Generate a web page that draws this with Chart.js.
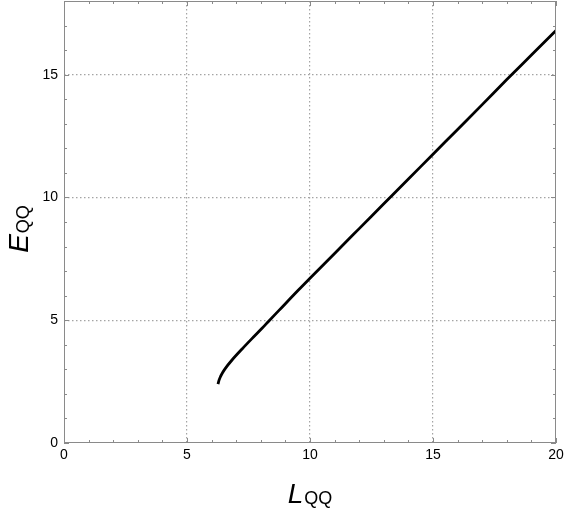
<!DOCTYPE html>
<html>
<head>
<meta charset="utf-8">
<script src="https://cdn.jsdelivr.net/npm/chart.js@4"></script>
<style>
  html, body { margin: 0; padding: 0; background: #fff; }
  #wrap { width: 565px; height: 511px; }
</style>
</head>
<body>
<div id="wrap"><canvas id="chart" width="565" height="511"></canvas></div>
<script>
// data
const lValues = [6.26, 6.30, 6.36, 6.45, 6.56, 6.83, 7.24, 7.64, 8.05, 8.32, 8.73, 9.52, 10, 11, 12, 13, 14, 15, 16, 17, 18, 19, 20];
const eValues = [2.40, 2.55, 2.70, 2.87, 3.04, 3.38, 3.83, 4.25, 4.67, 4.96, 5.39, 6.22, 6.71, 7.72, 8.73, 9.74, 10.75, 11.76, 12.77, 13.78, 14.80, 15.80, 16.80];
const xRange = [0, 20];
const yRange = [0, 18];
const majorStep = 5;

const frameColor = '#8a8a8a';
const gridColor = '#a4a4a4';

const points = lValues.map((l, i) => ({ x: l, y: eValues[i] }));

// grid only on major values, not on the frame
const gridAt = (ctx, range) => {
  const v = ctx.tick ? ctx.tick.value : null;
  if (v === null || v % majorStep !== 0 || v === range[0] || v === range[1]) return 'rgba(0,0,0,0)';
  return gridColor;
};

// box frame with inward ticks, drawn through the scales
const framePlugin = {
  id: 'frame',
  afterDraw(chart) {
    const { ctx, chartArea: a, scales: { x, y } } = chart;
    ctx.save();
    ctx.strokeStyle = frameColor;
    ctx.lineWidth = 1;
    ctx.strokeRect(a.left + 0.5, a.top + 0.5, a.right - a.left - 1, a.bottom - a.top - 1);
    ctx.beginPath();
    for (let v = xRange[0]; v <= xRange[1]; v++) {
      const px = Math.round(x.getPixelForValue(v)) + 0.5;
      const len = v % majorStep === 0 ? 5 : 3;
      ctx.moveTo(px, a.bottom); ctx.lineTo(px, a.bottom - len);
      ctx.moveTo(px, a.top); ctx.lineTo(px, a.top + len);
    }
    for (let v = yRange[0]; v <= yRange[1]; v++) {
      const py = Math.round(y.getPixelForValue(v)) + 0.5;
      const len = v % majorStep === 0 ? 5 : 3;
      ctx.moveTo(a.left, py); ctx.lineTo(a.left + len, py);
      ctx.moveTo(a.right, py); ctx.lineTo(a.right - len, py);
    }
    ctx.stroke();

    // axis titles with subscripts
    const drawLabel = (main, sub) => {
      ctx.font = 'italic 28px "Liberation Sans", Arial, sans-serif';
      const w1 = ctx.measureText(main).width;
      ctx.font = '18px "Liberation Sans", Arial, sans-serif';
      const w2 = ctx.measureText(sub).width;
      const start = -(w1 + w2 + 1) / 2;
      ctx.font = 'italic 28px "Liberation Sans", Arial, sans-serif';
      ctx.fillText(main, start, 0);
      ctx.font = '18px "Liberation Sans", Arial, sans-serif';
      ctx.fillText(sub, start + w1 + 1, 1);
    };
    ctx.fillStyle = '#000';
    ctx.textBaseline = 'alphabetic';
    ctx.textAlign = 'left';
    ctx.save();
    ctx.translate((a.left + a.right) / 2, 503);
    drawLabel('L', 'QQ');
    ctx.restore();
    ctx.save();
    ctx.translate(28, (a.top + a.bottom) / 2 + 7);
    ctx.rotate(-Math.PI / 2);
    drawLabel('E', 'QQ');
    ctx.restore();
    ctx.restore();
  }
};

new Chart(document.getElementById('chart').getContext('2d'), {
  type: 'line',
  data: {
    datasets: [{
      data: points,
      borderColor: '#000',
      borderWidth: 2.8,
      pointRadius: 0,
      fill: false,
      tension: 0.4,
      cubicInterpolationMode: 'monotone'
    }]
  },
  options: {
    responsive: false,
    animation: false,
    layout: { autoPadding: false, padding: { top: 1, right: 9, left: 0, bottom: 0 } },
    plugins: { legend: { display: false }, tooltip: { enabled: false } },
    scales: {
      x: {
        type: 'linear',
        min: xRange[0], max: xRange[1],
        afterFit: s => { s.height = 68; s.paddingLeft = 0; s.paddingRight = 0; },
        border: { display: false, dash: [1.5, 2.5] },
        grid: { drawTicks: false, color: c => gridAt(c, xRange), lineWidth: 1.2 },
        ticks: {
          stepSize: 1, autoSkip: false, maxRotation: 0, padding: 4,
          color: '#000',
          font: { family: '"Liberation Sans", Arial, sans-serif', size: 14 },
          callback: v => (v % majorStep === 0 ? v : '')
        }
      },
      y: {
        type: 'linear',
        min: yRange[0], max: yRange[1],
        afterFit: s => { s.width = 64; s.paddingTop = 0; s.paddingBottom = 0; },
        border: { display: false, dash: [1.5, 2.5] },
        grid: { drawTicks: false, color: c => gridAt(c, yRange), lineWidth: 1.2 },
        ticks: {
          stepSize: 1, autoSkip: false, padding: 6,
          color: '#000',
          font: { family: '"Liberation Sans", Arial, sans-serif', size: 14 },
          callback: v => (v % majorStep === 0 ? v : '')
        }
      }
    }
  },
  plugins: [framePlugin]
});
</script>
</body>
</html>
